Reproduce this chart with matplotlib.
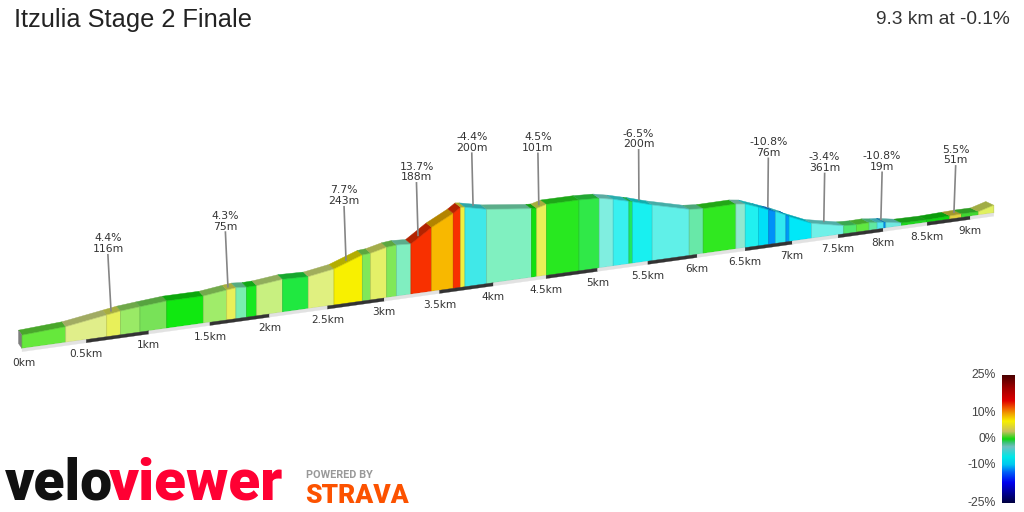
import numpy as np
import matplotlib
matplotlib.use('Agg')
import matplotlib.pyplot as plt
from matplotlib.colors import LinearSegmentedColormap, to_rgb

# #/#/# Data #/#/#

titleText = 'Itzulia Stage 2 Finale'
summaryText = '9.3 km at -0.1%'

distKm = [0.0, 0.339, 0.662, 0.773, 0.928, 1.145, 1.445, 1.640, 1.717, 1.807, 1.892,
          2.113, 2.333, 2.557, 2.806, 2.880, 3.023, 3.112, 3.241, 3.429, 3.627, 3.695,
          3.735, 3.937, 4.361, 4.410, 4.505, 4.818, 5.016, 5.154, 5.310, 5.347, 5.543,
          5.919, 6.063, 6.403, 6.501, 6.642, 6.749, 6.822, 6.933, 6.968, 7.209, 7.562,
          7.704, 7.843, 7.933, 8.009, 8.031, 8.208, 8.492, 8.762, 8.898, 9.097, 9.278]

elevM = [22.2, 26.4, 36.8, 40.3, 43.2, 46.9, 47.0, 52.0, 53.8, 52.2, 52.7,
         57.7, 56.4, 64.0, 82.3, 83.5, 90.5, 92.3, 90.8, 116.2, 136.9, 146.2,
         145.3, 136.8, 127.6, 127.2, 132.3, 132.9, 131.4, 126.2, 118.6, 117.0, 106.1,
         88.7, 86.5, 87.4, 85.0, 75.1, 67.3, 62.3, 53.0, 48.9, 29.7, 16.2,
         14.8, 15.3, 13.1, 12.1, 11.5, 5.7, 4.9, 6.4, 7.2, 7.0, 16.0]

# one colour for each stretch between two neighbouring distances
segColors = ['#66e83c', '#e0ee8a', '#e8f05a', '#9aea66', '#78e258', '#10e810', '#a0ec6a',
             '#e8f058', '#78eeb0', '#18e820', '#c8f080', '#20e840', '#e0f080', '#f8f000',
             '#80e858', '#e4f068', '#80e858', '#80eec0', '#f83000', '#f8b800', '#f83000',
             '#f0f040', '#40e8e8', '#80f0c0', '#10e010', '#e8f058', '#28e820', '#30e848',
             '#80eee0', '#38f0f0', '#20e860', '#18f0f0', '#60f0e8', '#68e8a8', '#30e820',
             '#90e8d0', '#20f0f0', '#00e0f8', '#0090f8', '#30e8f0', '#0098f8', '#00e8f8',
             '#70f0e8', '#50e870', '#60e840', '#60e8a0', '#50e8f0', '#0090f0', '#70e8e0',
             '#20d820', '#10d810', '#e0d040', '#40d830', '#e0f060']

calloutKm = [0.696, 1.65, 2.662, 3.305, 3.81, 4.43, 5.41, 6.74, 7.343, 7.975, 8.81]
calloutGrade = ['4.4%', '4.3%', '7.7%', '13.7%', '-4.4%', '4.5%', '-6.5%', '-10.8%', '-3.4%', '-10.8%', '5.5%']
calloutLength = ['116m', '75m', '243m', '188m', '200m', '101m', '200m', '76m', '361m', '19m', '51m']

tickKm = [0, 0.5, 1, 1.5, 2, 2.5, 3, 3.5, 4, 4.5, 5, 5.5, 6, 6.5, 7, 7.5, 8, 8.5, 9]
tickLabels = ['0km', '0.5km', '1km', '1.5km', '2km', '2.5km', '3km', '3.5km', '4km', '4.5km',
              '5km', '5.5km', '6km', '6.5km', '7km', '7.5km', '8km', '8.5km', '9km']

legendTicks = [25, 10, 0, -10, -25]
legendStops = [-25, -17, -13, -10, -7, -3, -1.5, 0, 3, 7, 10, 12, 15, 20, 25]
legendColors = ['#000040', '#0000f0', '#0060f8', '#00c8f0', '#00e8e8', '#70c0c0', '#40c080',
                '#10d810', '#c8c060', '#f8f000', '#f0a000', '#f06000', '#e00000', '#a00000', '#4a0000']


# #/#/# The 3D look: a road receding to the right #/#/#

def project(km, elev=0.0):
    '''Turn a distance and a height into figure pixels, far things get smaller.'''
    km = np.asarray(km, dtype=float)
    elev = np.asarray(elev, dtype=float)
    shrink = 1 / (1 + 0.0262 * km)
    x = 22 + 130.2 * km * shrink
    y = 348.5 - 0.1395 * (x - 22) - elev * 0.6 * shrink
    return x, y


def back_offset(x):
    '''How far the back edge of the wall top sits from the front edge.'''
    t = (x - 22) / 972
    return -3.5 - 4.5 * t, -5 + 1.3 * t


def shade(color, amount):
    return tuple(c * amount for c in to_rgb(color))


fig = plt.figure(figsize=(10.24, 5.12), dpi=100)
ax = fig.add_axes([0, 0, 1, 1])
ax.set_xlim(0, 1024)
ax.set_ylim(512, 0)
ax.axis('off')

xBase, yBase = project(distKm)
xTop, yTop = project(distKm, elevM)
dxBack, dyBack = back_offset(xTop)

# wall tops first, the faces then cover any overlap
for i, col in enumerate(segColors):
    ax.fill([xTop[i], xTop[i + 1], xTop[i + 1] + dxBack[i + 1], xTop[i] + dxBack[i]],
            [yTop[i], yTop[i + 1], yTop[i + 1] + dyBack[i + 1], yTop[i] + dyBack[i]],
            color=shade(col, 0.72), lw=0.3, zorder=2)

# grey end of the wall at the start
ax.fill([xTop[0], xTop[0] + dxBack[0], xBase[0] + dxBack[0], xBase[0]],
        [yTop[0], yTop[0] + dyBack[0], yBase[0] + dyBack[0], yBase[0]],
        color='#7d7d7d', lw=0.3, zorder=2)

# front faces
for i, col in enumerate(segColors):
    ax.fill([xBase[i], xBase[i + 1], xTop[i + 1], xTop[i]],
            [yBase[i], yBase[i + 1], yTop[i + 1], yTop[i]],
            facecolor=col, edgecolor=shade(col, 0.85), lw=0.5, zorder=3)

# road strip, every other half km is black
stripEdges = tickKm + [distKm[-1]]
for i in range(len(stripEdges) - 1):
    x0, y0 = project(stripEdges[i])
    x1, y1 = project(stripEdges[i + 1])
    col = '#333333' if i % 2 == 1 else '#e2e2e2'
    ax.fill([x0, x1, x1, x0], [y0, y1, y1 + 3.2, y0 + 3.2], color=col, lw=0.2, zorder=4)

# distance labels
for km, label in zip(tickKm, tickLabels):
    x, y = project(km)
    ax.text(x + (2 if km == 0 else 0), y + 14.5, label, ha='center', va='center',
            fontsize=7.6, color='#333333', family='DejaVu Sans')

# climb callouts, the leader leans a little and shrinks with distance
for km, grade, length in zip(calloutKm, calloutGrade, calloutLength):
    x, y = project(km, np.interp(km, distKm, elevM))
    y = y - 3
    lean = 3.5 - 5.5 * km / 9.3
    tall = 57 / (1 + 0.0262 * km)
    ax.plot([x - lean, x], [y - tall, y], color='#858585', lw=1.2, zorder=5)
    ax.text(x - lean, y - tall - 0.5, grade + '\n' + length, ha='center', va='bottom', fontsize=7.8,
            color='#333333', family='DejaVu Sans', linespacing=1.1, zorder=6)

# title and summary
ax.text(14, 27, titleText, ha='left', va='baseline', fontsize=18.25, color='#222222', family='Liberation Sans')
ax.text(1010, 24, summaryText, ha='right', va='baseline', fontsize=13.8, color='#333333', family='Liberation Sans')

# gradient legend
legendPos = [(s + 25) / 50 for s in legendStops]
cmap = LinearSegmentedColormap.from_list('grade', list(zip(legendPos, legendColors)))
legendAx = fig.add_axes([1002 / 1024, 1 - 503 / 512, 13 / 1024, 128 / 512])
legendAx.imshow(np.linspace(25, -25, 256).reshape(-1, 1), cmap=cmap, vmin=-25, vmax=25,
                aspect='auto', extent=[0, 1, -25, 25])
legendAx.axis('off')
for tick in legendTicks:
    ax.text(996, 375 + (25 - tick) * 128 / 50, f'{tick}%', ha='right', va='center',
            fontsize=8.8, color='#444444', family='Liberation Sans')

# logos, as plain text
ax.text(5, 499.5, 'velo', ha='left', va='baseline', fontsize=41, fontweight='black',
        color='#111111', family='Roboto')
ax.text(109, 499.5, 'viewer', ha='left', va='baseline', fontsize=42, fontweight='black',
        color='#ff0033', family='Roboto')
ax.text(306, 478, 'POWERED BY', ha='left', va='baseline', fontsize=7.8, fontweight='bold',
        color='#999999', family='Roboto')
ax.text(305, 503, 'STRAVA', ha='left', va='baseline', fontsize=19, fontweight='black',
        color='#fc5200', family='Roboto')

fig.savefig('out.png', dpi=100)
